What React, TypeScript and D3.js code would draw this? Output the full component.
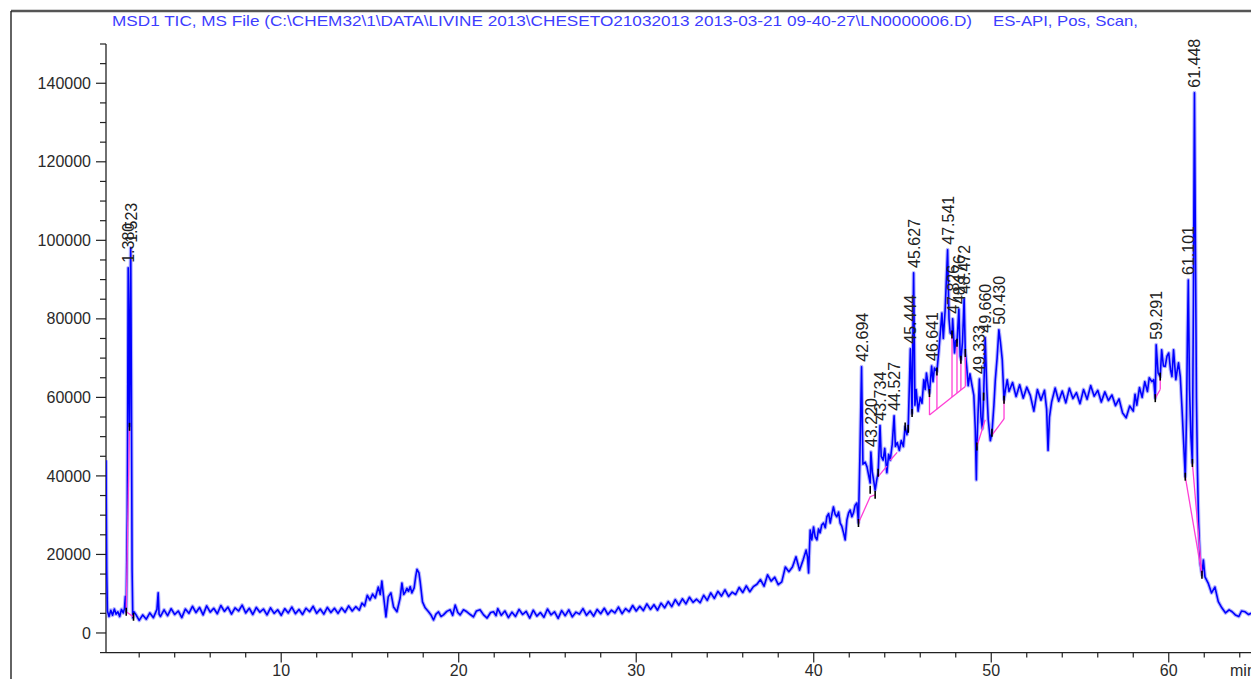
import React from "react";
import * as d3 from "d3";

const WIDTH = 1251;
const HEIGHT = 679;

const titleMain =
  "MSD1 TIC, MS File (C:\\CHEM32\\1\\DATA\\LIVINE 2013\\CHESETO21032013 2013-03-21 09-40-27\\LN0000006.D)";
const titleMode = "ES-API, Pos, Scan,";

// Axis ticks
const yMajorTicks = [0, 20000, 40000, 60000, 80000, 100000, 120000, 140000];
const xMajorTicks = [10, 20, 30, 40, 50, 60];
const xUnit = "min";

// Integrated peaks: retention time (min) and apex abundance
const peakTimes = [
  1.38, 1.523, 42.694, 43.22, 43.734, 44.527, 45.444, 45.627, 46.641, 47.541,
  47.826, 48.176, 48.472, 49.333, 49.66, 50.43, 59.291, 61.101, 61.448,
];
const peakApex = [
  93000, 98100, 67800, 46100, 52800, 55300, 72400, 91700, 68000, 97600, 80000,
  82500, 85100, 64700, 75200, 77200, 73400, 89900, 137600,
];

// TIC trace, [time, abundance] pairs around the solvent front
const ticHead: [number, number][] = [
  [0.13, 44000], [0.17, 16000], [0.21, 5600], [0.3, 4200], [0.4, 5800],
  [0.5, 4500], [0.6, 6100], [0.7, 4800], [0.8, 5400], [0.9, 4200], [1.0, 6000],
  [1.1, 5100], [1.17, 6200], [1.22, 9300], [1.27, 5400], [1.33, 30000],
  [1.42, 72000], [1.454, 52500], [1.49, 82000], [1.56, 62000], [1.6, 16000],
  [1.64, 3900], [1.7, 5400], [3.07, 10200], [3.12, 4800],
];

// Early baseline, sampled every 0.2 min from 1.8 min
const earlyStart = 1.8;
const earlyStep = 0.2;
const earlyTic = [
  4800, 3200, 4600, 3500, 5100, 3900, 6000, 4200, 5900, 4400,
  6200, 4700, 5600, 3900, 6100, 5000, 6800, 5200, 6500, 4600,
  6900, 5300, 6300, 4900, 7000, 5500, 6600, 4800, 6400, 5600,
  7100, 5100, 6300, 4700, 6500, 5300, 6100, 4600, 6400, 5000,
  5900, 4500, 6200, 5100, 6600, 4900, 6000, 4700, 6300, 5400,
  6800, 5000, 6100, 4800, 6500, 5200, 6300, 5000,
];

// Hump around 15-18 min
const ticHump: [number, number][] = [
  [13.4, 6400], [13.6, 5300], [13.8, 6900], [14.0, 5600], [14.2, 6700],
  [14.4, 5800], [14.55, 7600], [14.7, 6900], [14.85, 9600], [15.0, 8400],
  [15.15, 9900], [15.3, 8900], [15.47, 11700], [15.58, 9800], [15.67, 13200],
  [15.75, 10000], [15.83, 7000], [15.9, 4100], [16.03, 9200], [16.18, 10200],
  [16.33, 6600], [16.52, 5400], [16.7, 8900], [16.8, 12700], [16.9, 9800],
  [16.99, 10400], [17.08, 11400], [17.17, 10600], [17.27, 11800], [17.36, 10200],
  [17.49, 11500], [17.58, 14500], [17.65, 16200], [17.76, 15300], [17.83, 13000],
  [17.96, 7900], [18.11, 6400], [18.3, 5400], [18.45, 4500], [18.58, 3300],
  [18.72, 4800], [18.86, 5400], [19.0, 4200], [19.14, 4600], [19.33, 5500],
  [19.52, 5900], [19.66, 4500], [19.8, 7100], [19.95, 5200], [20.08, 4600],
  [20.27, 5900], [20.46, 5400], [20.65, 4700], [20.83, 4100], [21.0, 5600],
  [21.2, 5900], [21.4, 4600], [21.6, 3800], [21.8, 5200], [21.96, 5400],
  [22.1, 4400],
];

// Middle baseline, sampled every 0.2 min from 22.2 min
const midStart = 22.2;
const midStep = 0.2;
const midTic = [
  6200, 4500, 5600, 3900, 5300, 4200, 6000, 4700, 5500, 3800,
  5800, 4300, 5200, 4000, 6100, 4600, 5400, 3700, 5700, 4400,
  5900, 4100, 5300, 4800, 6200, 4500, 5600, 4300, 6000, 4900,
  6300, 4700, 5800, 5100, 6600, 4900, 6200, 5400, 7000, 5600,
  6800, 5700, 7400, 6000, 7200, 5800, 7600, 6400, 8000, 6700,
  8500, 7100, 8700, 7400, 9100, 7800, 8600, 7700, 9600, 8300,
  10200, 8800, 10600, 9400, 11000, 9300, 10400, 9800, 11600, 10300,
  12000, 10500, 11800, 12400, 13600, 11900, 14800, 13200, 14200, 12300,
  13000, 16800, 15600, 16800, 19400, 16000, 18600,
];

// Rise before the main elution cluster
const ticRamp: [number, number][] = [
  [39.57, 21100], [39.65, 19400], [39.71, 15300], [39.8, 26200], [39.89, 23700],
  [39.99, 27000], [40.08, 24500], [40.18, 23700], [40.27, 26500], [40.36, 25500],
  [40.45, 27500], [40.55, 28000], [40.65, 26800], [40.74, 29600], [40.84, 30400],
  [40.93, 28000], [41.02, 30200], [41.11, 32100], [41.2, 30300], [41.3, 29600],
  [41.4, 30800], [41.49, 28000], [41.58, 27200], [41.68, 25500], [41.77, 23700],
  [41.87, 28800], [41.96, 30500], [42.05, 31300], [42.15, 29600], [42.24, 30600],
  [42.33, 32500], [42.43, 33100], [42.52, 28000],
];

// Elution cluster 42.5-51 min (apexes come from peakTimes/peakApex)
const ticCluster: [number, number][] = [
  [42.6, 45000], [42.77, 43000], [42.9, 43500], [43.0, 42300], [43.1, 40000],
  [43.18, 38200], [43.3, 41000], [43.46, 36400], [43.55, 39000], [43.63, 40800],
  [43.8, 45000], [43.91, 44000], [44.0, 47000], [44.12, 40800], [44.22, 45500],
  [44.31, 44000], [44.42, 48000], [44.6, 47500], [44.7, 48500], [44.82, 46500],
  [44.93, 49000], [45.05, 47500], [45.15, 52600], [45.25, 50500], [45.32, 52000],
  [45.54, 56000], [45.7, 58000], [45.77, 62000], [45.88, 56500], [46.0, 60000],
  [46.1, 58500], [46.2, 64500], [46.28, 62000], [46.35, 66200], [46.45, 63000],
  [46.52, 61100], [46.72, 64000], [46.8, 67500], [46.94, 66600], [47.05, 72000],
  [47.13, 76400], [47.22, 81500], [47.3, 75000], [47.4, 82000], [47.62, 80000],
  [47.69, 76400], [47.79, 76000], [47.93, 71300], [48.0, 74500], [48.07, 73900],
  [48.25, 70500], [48.29, 69600], [48.38, 74000], [48.54, 71300], [48.62, 67800],
  [48.7, 63000], [48.8, 66000], [48.93, 62700], [49.02, 60500], [49.1, 52000],
  [49.16, 39000], [49.19, 47500], [49.25, 55000], [49.42, 55000], [49.5, 52000],
  [49.57, 60200], [49.75, 62000], [49.83, 54300], [49.95, 49000], [50.04, 51000],
  [50.15, 58000], [50.23, 64500], [50.33, 70000], [50.52, 74000], [50.62, 69600],
  [50.72, 59400], [50.8, 62000], [50.9, 64500], [51.0, 61500],
];

// Plateau, sampled every 0.2 min from 51.2 min
const plateauStart = 51.2;
const plateauStep = 0.2;
const plateauTic = [
  63800, 60200, 63200, 59800, 62600, 60500, 56500, 62000, 59300, 61800,
  46500, 58800, 62400, 59000, 61600, 58600, 62300, 59700, 61200, 58400,
  62000, 59500, 63000, 60300, 61800, 58800, 61400, 59200, 60600, 57900,
  59600, 56000, 54800, 57800,
];
const plateauDip: [number, number][] = [[53.12, 57000], [53.28, 55000]];

// Late peaks and column wash
const ticTail: [number, number][] = [
  [58.0, 56500], [58.1, 60800], [58.2, 58000], [58.35, 62500], [58.5, 60000],
  [58.65, 64000], [58.8, 61500], [58.9, 65000], [59.05, 64000], [59.15, 64500],
  [59.24, 59800], [59.4, 66200], [59.52, 65300], [59.6, 72100], [59.7, 68000],
  [59.8, 67900], [59.9, 70500], [60.0, 71300], [60.1, 67000], [60.18, 65300],
  [60.27, 72100], [60.4, 64500], [60.48, 67000], [60.55, 68800], [60.65, 65300],
  [60.74, 57700], [60.83, 49200], [60.93, 39800], [61.0, 55000], [61.05, 75000],
  [61.17, 62000], [61.25, 50000], [61.33, 43300], [61.39, 85000], [61.5, 100000],
  [61.56, 60000], [61.62, 40800], [61.68, 28000], [61.77, 17800], [61.87, 14800],
  [61.95, 18600], [62.04, 14300], [62.22, 12700], [62.41, 10200], [62.6, 11700],
  [62.79, 8000], [62.99, 6400], [63.2, 5100], [63.4, 5900], [63.57, 5400],
  [63.75, 4600], [63.95, 4200], [64.1, 5600], [64.3, 5400], [64.5, 4700],
  [64.7, 5100], [64.9, 4400], [65.1, 5500], [65.3, 4900], [65.5, 5200],
];

// Integration baselines (polylines of [time, abundance])
const integrationBaselines: [number, number][][] = [
  [[1.27, 5400], [1.454, 52500]],
  [[1.27, 5400], [1.68, 4100]],
  [[42.52, 28000], [43.18, 34700], [43.46, 35200]],
  [[43.63, 39800], [44.12, 42500]],
  [[44.31, 44000], [44.7, 46000]],
  [[46.52, 55500], [48.54, 62760]],
  [[49.19, 47500], [49.66, 54300]],
  [[50.04, 50400], [50.72, 54500]],
  [[59.24, 59800], [59.52, 62000]],
  [[60.93, 39800], [61.87, 14800]],
  [[61.33, 43300], [61.87, 14800]],
];

// Peak-split drop lines: [time, bottom, top]
const dropLines: [number, number, number][] = [
  [46.52, 55500, 61100], [46.94, 57000, 66600], [47.79, 60100, 76000],
  [48.07, 61100, 73900], [48.29, 61900, 69600], [48.54, 62760, 71300],
  [50.72, 54500, 59400], [59.52, 62000, 65300],
];

// Peak start/end markers
const peakMarks: [number, number][] = [
  [1.27, 5400], [1.454, 52500], [1.68, 4100], [42.52, 28000], [43.18, 36500],
  [43.46, 35200], [43.63, 40800], [45.15, 52600], [45.32, 52000], [45.54, 56000],
  [46.52, 61100], [46.94, 66600], [47.79, 76000], [48.07, 73900], [48.29, 69600],
  [48.54, 71300], [49.19, 47500], [49.57, 60200], [50.04, 51000], [50.72, 59400],
  [59.24, 59800], [59.52, 65300], [60.93, 39800], [61.33, 43300], [61.87, 14800],
];

const gridPairs = (start: number, step: number, values: number[]): [number, number][] =>
  values.map((v, i) => [+(start + i * step).toFixed(3), v]);

const trace: [number, number][] = [
  ...ticHead,
  ...gridPairs(earlyStart, earlyStep, earlyTic),
  ...ticHump,
  ...gridPairs(midStart, midStep, midTic),
  ...ticRamp,
  ...ticCluster,
  ...gridPairs(plateauStart, plateauStep, plateauTic),
  ...plateauDip,
  ...ticTail,
  ...peakTimes.map((t, i) => [t, peakApex[i]] as [number, number]),
].sort((a, b) => a[0] - b[0]);

const FONT = "'Liberation Sans', Arial, Helvetica, sans-serif";

export default function App() {
  const x = d3.scaleLinear().domain([0.13, 64.65]).range([106, 1251.3]);
  const y = d3.scaleLinear().domain([-5000, 150000]).range([652.6, 44]);

  const line = d3
    .line<[number, number]>()
    .x((d) => x(d[0]))
    .y((d) => y(d[1]));

  const yMinor = d3.range(-5000, 150001, 5000).filter((v) => !yMajorTicks.includes(v));
  const xMinor = d3.range(2, 65, 2).filter((v) => !xMajorTicks.includes(v));
  const x0 = x.range()[0];
  const yBase = y(-5000);
  const traceD = line(trace) ?? "";

  return (
    <div
      style={{
        position: "absolute",
        left: 0,
        top: 0,
        width: WIDTH,
        height: HEIGHT,
        overflow: "hidden",
        background: "#fff",
      }}
    >
      <svg width={WIDTH} height={HEIGHT} style={{ display: "block" }} fontFamily={FONT}>
        <defs>
          <clipPath id="plot-clip">
            <rect x={x0} y={0} width={WIDTH - x0} height={yBase} />
          </clipPath>
        </defs>

        {/* page frame */}
        <line x1={11} y1={11} x2={WIDTH} y2={11} stroke="#555" strokeWidth={2.6} />
        <line x1={11} y1={11} x2={11} y2={HEIGHT} stroke="#222" strokeWidth={1.4} />

        {/* title */}
        <text
          x={112}
          y={26}
          fontSize={15}
          fill="#3d3dff"
          textLength={860}
          lengthAdjust="spacingAndGlyphs"
        >
          {titleMain}
        </text>
        <text
          x={993}
          y={26}
          fontSize={15}
          fill="#3d3dff"
          textLength={145}
          lengthAdjust="spacingAndGlyphs"
        >
          {titleMode}
        </text>

        {/* y axis */}
        <line x1={x0} y1={y(150000)} x2={x0} y2={yBase} stroke="#222" strokeWidth={1.3} />
        {yMinor.map((v) => (
          <line key={"ym" + v} x1={x0 - 6} x2={x0} y1={y(v)} y2={y(v)} stroke="#222" strokeWidth={1.2} />
        ))}
        {yMajorTicks.map((v) => (
          <g key={"yM" + v}>
            <line x1={x0 - 10} x2={x0} y1={y(v)} y2={y(v)} stroke="#222" strokeWidth={1.2} />
            <text x={91} y={y(v)} dy="0.35em" textAnchor="end" fontSize={16} fill="#2a2a2a">
              {v}
            </text>
          </g>
        ))}

        {/* x axis */}
        <line x1={x0} y1={yBase} x2={WIDTH} y2={yBase} stroke="#222" strokeWidth={1.4} />
        {xMinor.map((t) => (
          <line key={"xm" + t} x1={x(t)} x2={x(t)} y1={yBase} y2={yBase + 5} stroke="#222" strokeWidth={1.2} />
        ))}
        {xMajorTicks.map((t) => (
          <g key={"xM" + t}>
            <line x1={x(t)} x2={x(t)} y1={yBase} y2={yBase + 10} stroke="#222" strokeWidth={1.2} />
            <text x={x(t)} y={676} textAnchor="middle" fontSize={16} fill="#2a2a2a">
              {t}
            </text>
          </g>
        ))}
        <text x={1230} y={676} fontSize={16} fill="#2a2a2a">
          {xUnit}
        </text>

        <g clipPath="url(#plot-clip)">
          {/* TIC trace */}
          <path d={traceD} fill="none" stroke="#6a6aff" strokeOpacity={0.5} strokeWidth={3.8} strokeLinejoin="round" />
          <path d={traceD} fill="none" stroke="#0000ff" strokeWidth={1.6} strokeLinejoin="round" />

          {/* integration baselines and drop lines */}
          {integrationBaselines.map((seg, i) => (
            <path key={"ib" + i} d={line(seg) ?? ""} fill="none" stroke="#ff3fd6" strokeWidth={1.3} />
          ))}
          {dropLines.map(([t, lo, hi], i) => (
            <line key={"dl" + i} x1={x(t)} x2={x(t)} y1={y(lo)} y2={y(hi)} stroke="#ff3fd6" strokeWidth={1.3} />
          ))}

          {/* peak start/end marks */}
          {peakMarks.map(([t, v], i) => (
            <line key={"pm" + i} x1={x(t)} x2={x(t)} y1={y(v) - 4} y2={y(v) + 4} stroke="#000" strokeWidth={1.6} />
          ))}
        </g>

        {/* retention time labels */}
        {peakTimes.map((t, i) => (
          <text
            key={"pl" + i}
            transform={`translate(${x(t) + 6},${y(peakApex[i]) - 5}) rotate(-90)`}
            fontSize={16}
            fill="#222"
          >
            {t.toFixed(3)}
          </text>
        ))}
      </svg>
    </div>
  );
}
